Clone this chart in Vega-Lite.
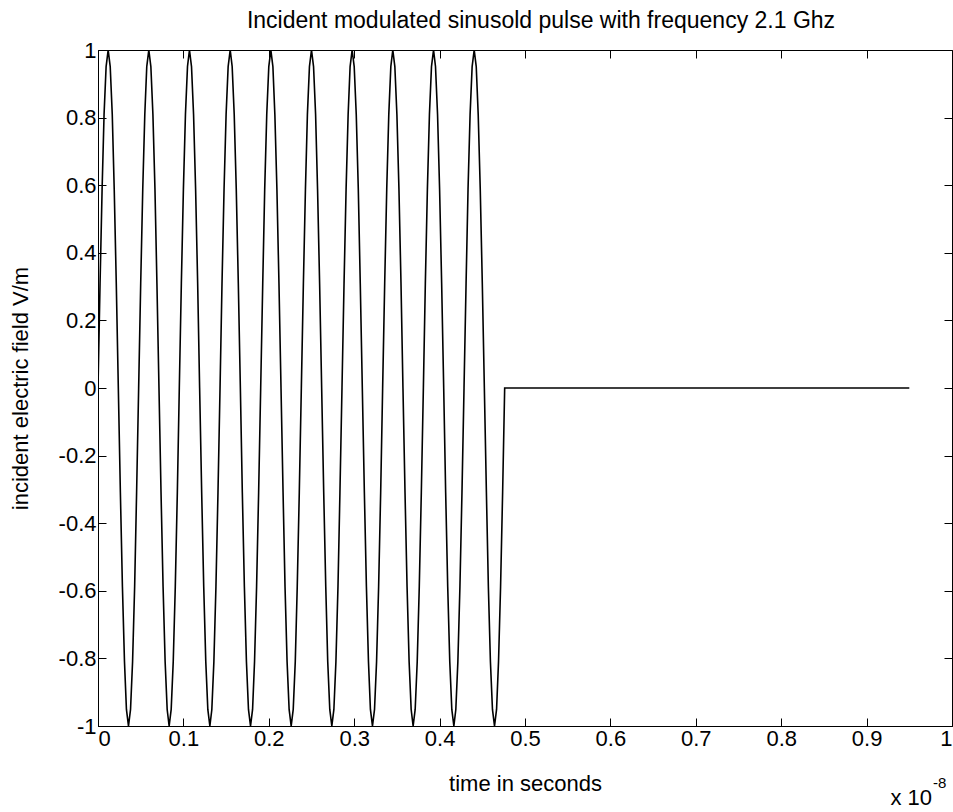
{
  "$schema": "https://vega.github.io/schema/vega-lite/v6.json",
  "width": 854,
  "height": 676,
  "autosize": {"type": "none"},
  "padding": {"left": 98, "top": 50, "right": 1, "bottom": 86},
  "background": "white",
  "config": {
    "font": "Liberation Sans",
    "view": {"stroke": "black", "strokeWidth": 1},
    "axis": {
      "domainColor": "black", "tickColor": "black", "labelColor": "black", "titleColor": "black",
      "labelFontSize": 22, "titleFontSize": 22, "titleFontWeight": "normal", "grid": false,
      "tickSize": -8, "labelFont": "Liberation Sans", "titleFont": "Liberation Sans"
    }
  },
  "title": {"text": "Incident modulated sinusold pulse with frequency 2.1 Ghz", "fontSize": 23, "fontWeight": "normal", "offset": 6, "dx": 16, "color": "black", "font": "Liberation Sans"},
  "datasets": {
    "pulse": [
      {"t":0,"e":0},{"t":0.0024,"e":0.309},{"t":0.0048,"e":0.5878},{"t":0.0071,"e":0.809},{"t":0.0095,"e":0.9511},{"t":0.0119,"e":1},{"t":0.0143,"e":0.9511},{"t":0.0167,"e":0.809},{"t":0.019,"e":0.5878},{"t":0.0214,"e":0.309},
      {"t":0.0238,"e":0},{"t":0.0262,"e":-0.309},{"t":0.0286,"e":-0.5878},{"t":0.031,"e":-0.809},{"t":0.0333,"e":-0.9511},{"t":0.0357,"e":-1},{"t":0.0381,"e":-0.9511},{"t":0.0405,"e":-0.809},{"t":0.0429,"e":-0.5878},{"t":0.0452,"e":-0.309},
      {"t":0.0476,"e":0},{"t":0.05,"e":0.309},{"t":0.0524,"e":0.5878},{"t":0.0548,"e":0.809},{"t":0.0571,"e":0.9511},{"t":0.0595,"e":1},{"t":0.0619,"e":0.9511},{"t":0.0643,"e":0.809},{"t":0.0667,"e":0.5878},{"t":0.069,"e":0.309},
      {"t":0.0714,"e":0},{"t":0.0738,"e":-0.309},{"t":0.0762,"e":-0.5878},{"t":0.0786,"e":-0.809},{"t":0.081,"e":-0.9511},{"t":0.0833,"e":-1},{"t":0.0857,"e":-0.9511},{"t":0.0881,"e":-0.809},{"t":0.0905,"e":-0.5878},{"t":0.0929,"e":-0.309},
      {"t":0.0952,"e":0},{"t":0.0976,"e":0.309},{"t":0.1,"e":0.5878},{"t":0.1024,"e":0.809},{"t":0.1048,"e":0.9511},{"t":0.1071,"e":1},{"t":0.1095,"e":0.9511},{"t":0.1119,"e":0.809},{"t":0.1143,"e":0.5878},{"t":0.1167,"e":0.309},
      {"t":0.119,"e":0},{"t":0.1214,"e":-0.309},{"t":0.1238,"e":-0.5878},{"t":0.1262,"e":-0.809},{"t":0.1286,"e":-0.9511},{"t":0.131,"e":-1},{"t":0.1333,"e":-0.9511},{"t":0.1357,"e":-0.809},{"t":0.1381,"e":-0.5878},{"t":0.1405,"e":-0.309},
      {"t":0.1429,"e":0},{"t":0.1452,"e":0.309},{"t":0.1476,"e":0.5878},{"t":0.15,"e":0.809},{"t":0.1524,"e":0.9511},{"t":0.1548,"e":1},{"t":0.1571,"e":0.9511},{"t":0.1595,"e":0.809},{"t":0.1619,"e":0.5878},{"t":0.1643,"e":0.309},
      {"t":0.1667,"e":0},{"t":0.169,"e":-0.309},{"t":0.1714,"e":-0.5878},{"t":0.1738,"e":-0.809},{"t":0.1762,"e":-0.9511},{"t":0.1786,"e":-1},{"t":0.181,"e":-0.9511},{"t":0.1833,"e":-0.809},{"t":0.1857,"e":-0.5878},{"t":0.1881,"e":-0.309},
      {"t":0.1905,"e":0},{"t":0.1929,"e":0.309},{"t":0.1952,"e":0.5878},{"t":0.1976,"e":0.809},{"t":0.2,"e":0.9511},{"t":0.2024,"e":1},{"t":0.2048,"e":0.9511},{"t":0.2071,"e":0.809},{"t":0.2095,"e":0.5878},{"t":0.2119,"e":0.309},
      {"t":0.2143,"e":0},{"t":0.2167,"e":-0.309},{"t":0.219,"e":-0.5878},{"t":0.2214,"e":-0.809},{"t":0.2238,"e":-0.9511},{"t":0.2262,"e":-1},{"t":0.2286,"e":-0.9511},{"t":0.231,"e":-0.809},{"t":0.2333,"e":-0.5878},{"t":0.2357,"e":-0.309},
      {"t":0.2381,"e":0},{"t":0.2405,"e":0.309},{"t":0.2429,"e":0.5878},{"t":0.2452,"e":0.809},{"t":0.2476,"e":0.9511},{"t":0.25,"e":1},{"t":0.2524,"e":0.9511},{"t":0.2548,"e":0.809},{"t":0.2571,"e":0.5878},{"t":0.2595,"e":0.309},
      {"t":0.2619,"e":0},{"t":0.2643,"e":-0.309},{"t":0.2667,"e":-0.5878},{"t":0.269,"e":-0.809},{"t":0.2714,"e":-0.9511},{"t":0.2738,"e":-1},{"t":0.2762,"e":-0.9511},{"t":0.2786,"e":-0.809},{"t":0.281,"e":-0.5878},{"t":0.2833,"e":-0.309},
      {"t":0.2857,"e":0},{"t":0.2881,"e":0.309},{"t":0.2905,"e":0.5878},{"t":0.2929,"e":0.809},{"t":0.2952,"e":0.9511},{"t":0.2976,"e":1},{"t":0.3,"e":0.9511},{"t":0.3024,"e":0.809},{"t":0.3048,"e":0.5878},{"t":0.3071,"e":0.309},
      {"t":0.3095,"e":0},{"t":0.3119,"e":-0.309},{"t":0.3143,"e":-0.5878},{"t":0.3167,"e":-0.809},{"t":0.319,"e":-0.9511},{"t":0.3214,"e":-1},{"t":0.3238,"e":-0.9511},{"t":0.3262,"e":-0.809},{"t":0.3286,"e":-0.5878},{"t":0.331,"e":-0.309},
      {"t":0.3333,"e":0},{"t":0.3357,"e":0.309},{"t":0.3381,"e":0.5878},{"t":0.3405,"e":0.809},{"t":0.3429,"e":0.9511},{"t":0.3452,"e":1},{"t":0.3476,"e":0.9511},{"t":0.35,"e":0.809},{"t":0.3524,"e":0.5878},{"t":0.3548,"e":0.309},
      {"t":0.3571,"e":0},{"t":0.3595,"e":-0.309},{"t":0.3619,"e":-0.5878},{"t":0.3643,"e":-0.809},{"t":0.3667,"e":-0.9511},{"t":0.369,"e":-1},{"t":0.3714,"e":-0.9511},{"t":0.3738,"e":-0.809},{"t":0.3762,"e":-0.5878},{"t":0.3786,"e":-0.309},
      {"t":0.381,"e":0},{"t":0.3833,"e":0.309},{"t":0.3857,"e":0.5878},{"t":0.3881,"e":0.809},{"t":0.3905,"e":0.9511},{"t":0.3929,"e":1},{"t":0.3952,"e":0.9511},{"t":0.3976,"e":0.809},{"t":0.4,"e":0.5878},{"t":0.4024,"e":0.309},
      {"t":0.4048,"e":0},{"t":0.4071,"e":-0.309},{"t":0.4095,"e":-0.5878},{"t":0.4119,"e":-0.809},{"t":0.4143,"e":-0.9511},{"t":0.4167,"e":-1},{"t":0.419,"e":-0.9511},{"t":0.4214,"e":-0.809},{"t":0.4238,"e":-0.5878},{"t":0.4262,"e":-0.309},
      {"t":0.4286,"e":0},{"t":0.431,"e":0.309},{"t":0.4333,"e":0.5878},{"t":0.4357,"e":0.809},{"t":0.4381,"e":0.9511},{"t":0.4405,"e":1},{"t":0.4429,"e":0.9511},{"t":0.4452,"e":0.809},{"t":0.4476,"e":0.5878},{"t":0.45,"e":0.309},
      {"t":0.4524,"e":0},{"t":0.4548,"e":-0.309},{"t":0.4571,"e":-0.5878},{"t":0.4595,"e":-0.809},{"t":0.4619,"e":-0.9511},{"t":0.4643,"e":-1},{"t":0.4667,"e":-0.9511},{"t":0.469,"e":-0.809},{"t":0.4714,"e":-0.5878},{"t":0.4738,"e":-0.309},
      {"t":0.4762,"e":0},{"t":0.95,"e":0}
    ]
  },
  "data": {"name": "pulse"},
  "layer": [
    {
      "mark": {"type": "line", "color": "black", "strokeWidth": 1.6, "clip": true},
      "encoding": {
        "x": {"field": "t", "type": "quantitative", "scale": {"domain": [0, 1], "nice": false},
          "axis": {"orient": "bottom", "values": [0,0.1,0.2,0.3,0.4,0.5,0.6,0.7,0.8,0.9,1], "labelExpr": "replace(format(datum.value, '~g'), '−', '-')", "title": "time in seconds", "labelPadding": 10, "titlePadding": 24}},
        "y": {"field": "e", "type": "quantitative", "scale": {"domain": [-1, 1], "nice": false},
          "axis": {"orient": "left", "values": [-1,-0.8,-0.6,-0.4,-0.2,0,0.2,0.4,0.6,0.8,1], "labelExpr": "replace(format(datum.value, '~g'), '−', '-')", "title": "incident electric field V/m", "labelPadding": 10, "titlePadding": 26}}
      }
    },
    {
      "mark": {"type": "line", "opacity": 0},
      "encoding": {
        "x": {"field": "t", "type": "quantitative", "axis": {"orient": "top", "labels": false, "title": null, "domain": false, "values": [0,0.1,0.2,0.3,0.4,0.5,0.6,0.7,0.8,0.9,1]}},
        "y": {"field": "e", "type": "quantitative", "axis": {"orient": "right", "labels": false, "title": null, "domain": false, "values": [-1,-0.8,-0.6,-0.4,-0.2,0,0.2,0.4,0.6,0.8,1]}}
      }
    },
    {
      "data": {"values": [{}]},
      "mark": {"type": "text", "text": "x 10", "align": "right", "baseline": "alphabetic", "dx": -20, "dy": 79, "fontSize": 22, "color": "black"},
      "encoding": {"x": {"datum": 1, "type": "quantitative", "axis": null}, "y": {"datum": -1, "type": "quantitative", "axis": null}}
    },
    {
      "data": {"values": [{}]},
      "mark": {"type": "text", "text": "-8", "align": "left", "baseline": "alphabetic", "dx": -19, "dy": 62, "fontSize": 15, "color": "black"},
      "encoding": {"x": {"datum": 1, "type": "quantitative", "axis": null}, "y": {"datum": -1, "type": "quantitative", "axis": null}}
    }
  ],
  "resolve": {"axis": {"x": "independent", "y": "independent"}}
}
